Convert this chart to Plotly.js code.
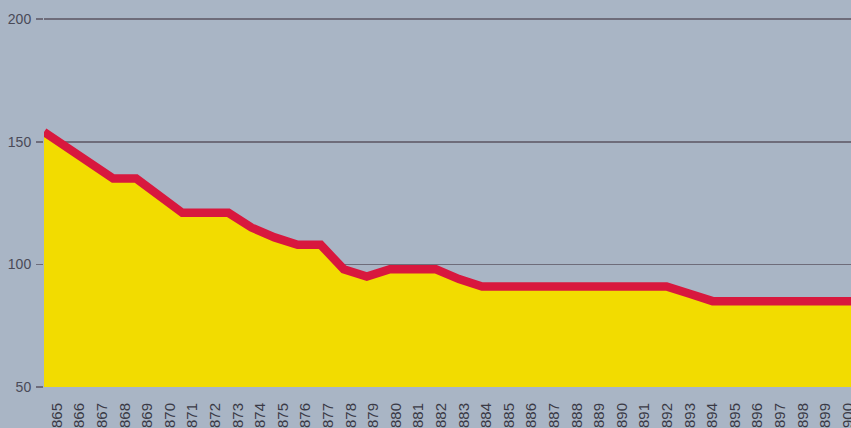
<!DOCTYPE html>
<html>
<head>
<meta charset="utf-8">
<script src="https://cdn.plot.ly/plotly-3.0.1.min.js"></script>
<style>
html,body{margin:0;padding:0;background:#a9b5c5;}
#chart{width:851px;height:428px;}
</style>
</head>
<body>
<div id="chart"></div>
<script>
const years = [1865,1866,1867,1868,1869,1870,1871,1872,1873,1874,1875,1876,1877,1878,1879,1880,1881,1882,1883,1884,1885,1886,1887,1888,1889,1890,1891,1892,1893,1894,1895,1896,1897,1898,1899,1900];
const values = [154,148,141,135,135,128,121,121,121,115,111,108,108,98,95,98,98,98,94,91,91,91,91,91,91,91,91,91,88,85,85,85,85,85,85,85];
const yTicks = [50,100,150,200];
const xTickText = years.map(String);

const trace = {
  x: years,
  y: values,
  type: 'scatter',
  mode: 'lines',
  fill: 'tozeroy',
  fillcolor: '#f2dc00',
  line: {color: '#d8183e', width: 8.5},
  hoverinfo: 'skip'
};

// invisible companion trace so the label axis is drawn
const labelTrace = {
  x: years,
  y: values,
  xaxis: 'x2',
  type: 'scatter',
  mode: 'lines',
  line: {width: 0, color: 'rgba(0,0,0,0)'},
  hoverinfo: 'skip'
};

const layout = {
  width: 851,
  height: 428,
  margin: {l: 44, r: 0, t: 0, b: 41},
  paper_bgcolor: '#a9b5c5',
  plot_bgcolor: '#a9b5c5',
  showlegend: false,
  xaxis: {
    range: [1865, 1900],
    showticklabels: false,
    ticks: '',
    showgrid: false,
    zeroline: false,
    showline: false
  },
  xaxis2: {
    overlaying: 'x',
    anchor: 'y',
    side: 'bottom',
    range: [1864.425, 1900.135],
    tickvals: years,
    ticktext: xTickText,
    tickangle: -90,
    ticks: '',
    showgrid: false,
    zeroline: false,
    showline: false,
    ticklabeloverflow: 'allow',
    ticklabelstandoff: 12,
    tickfont: {family: 'Liberation Sans, Arial, sans-serif', size: 15, color: '#3a3a46'}
  },
  yaxis: {
    range: [50, 207.8],
    tickvals: yTicks,
    ticktext: yTicks.map(String),
    ticks: 'outside',
    ticklen: 7,
    tickcolor: '#6e6c7a',
    tickwidth: 1.5,
    showgrid: true,
    gridcolor: '#6e6c7a',
    gridwidth: 1.5,
    zeroline: false,
    showline: false,
    ticklabelstandoff: 2,
    tickfont: {family: 'Liberation Sans, Arial, sans-serif', size: 14, color: '#4a4a58'}
  }
};

Plotly.newPlot('chart', [trace, labelTrace], layout, {displayModeBar: false, staticPlot: true});
</script>
</body>
</html>
